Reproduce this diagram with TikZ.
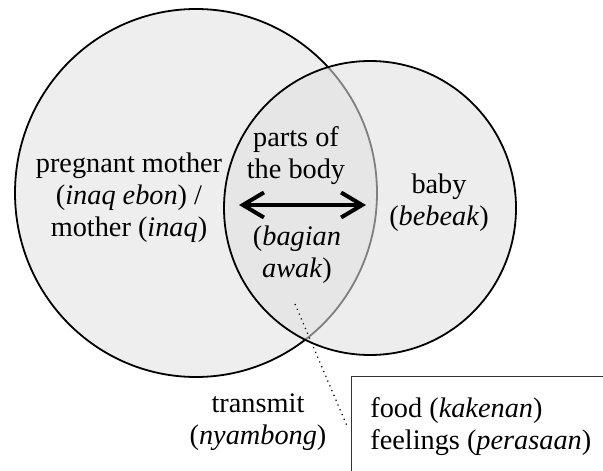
\documentclass[tikz,border=0pt]{standalone}
\usepackage{fontspec}
\setmainfont{Liberation Serif}[ItalicFont={* Italic}]
\usetikzlibrary{arrows.meta,positioning,shapes.geometric}
\definecolor{venngray}{HTML}{EEEEEE}

\begin{document}
\begin{tikzpicture}[
    x=0.5pt, y=-0.5pt,
    font=\fontsize{14.15}{16}\selectfont,
    set/.style={draw=black, line width=0.9pt, ellipse, inner sep=0pt},
    lbl/.style={align=center, inner sep=0pt},
    arrow/.style={{Straight Barb[length=10.5pt,width=12.5pt]}-{Straight Barb[length=10.5pt,width=12.5pt]}, line width=2pt},
    leader/.style={dotted, line width=0.6pt},
    listbox/.style={draw=black!80, line width=0.6pt, anchor=north west, minimum width=150pt, minimum height=60pt}
]
\fill[white] (0,0) rectangle (603,470);
\useasboundingbox (0,0) rectangle (603,470);

% the two sets, the second one see-through so the overlap comes out darker
\node[set, fill=venngray, minimum width=181pt, minimum height=184pt] (mother) at (196,193) {};
\node[set, fill=black!12, fill opacity=0.57, minimum width=146pt, minimum height=147pt] (baby) at (370,208) {};

\node[lbl] (mothertxt) at (129,197.5) {pregnant mother\\(\textit{inaq ebon}) /\\mother (\textit{inaq})};
\node[lbl] (babytxt) at (439,203) {baby\\(\textit{bebeak})};
\node[lbl] (parts) at (296,156) {parts of\\the body};
\node[lbl] (bagian) at (297,255) {(\textit{bagian}\\\textit{awak})};
\node[lbl] (transmit) at (258,422.5) {transmit\\(\textit{nyambong})};

\node[listbox] (box) at (351,376) {};
\node[lbl, align=left, anchor=west] (foods) at (370,427) {food (\textit{kakenan})\\feelings (\textit{perasaan})};

\coordinate (al) at (239,205);
\coordinate (ar) at (366,205);
\coordinate (spot) at (295,304);
\coordinate (tip) at (347,426);

\draw[arrow] (al) -- (ar);
\draw[leader] (spot) -- (tip);
\end{tikzpicture}
\end{document}
